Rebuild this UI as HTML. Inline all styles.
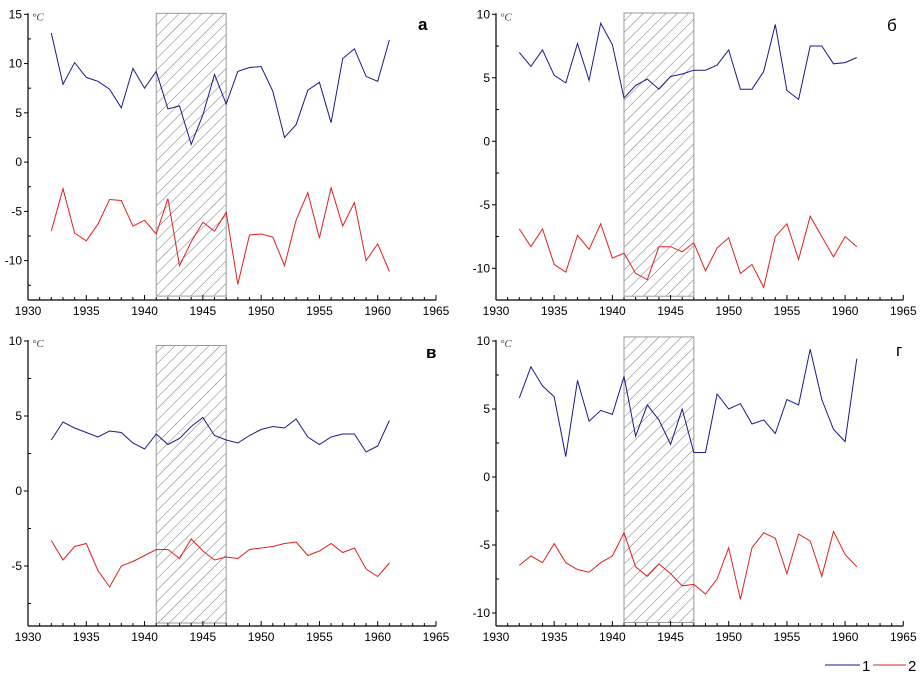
<!DOCTYPE html>
<html><head><meta charset="utf-8">
<style>
body{margin:0;background:#fff;}
svg{display:block;font-family:"Liberation Sans","DejaVu Sans",sans-serif;}
</style></head>
<body>
<svg id="chart" width="920" height="676" viewBox="0 0 920 676" xmlns="http://www.w3.org/2000/svg">
<defs>
<pattern id="hatch" patternUnits="userSpaceOnUse" width="8" height="8" patternTransform="rotate(45)">
<line x1="0" y1="0" x2="0" y2="8" stroke="#777" stroke-width="1"/>
</pattern>
</defs>
</svg>
<script>
const years = [1932,1933,1934,1935,1936,1937,1938,1939,1940,1941,1942,1943,1944,1945,1946,1947,1948,1949,1950,1951,1952,1953,1954,1955,1956,1957,1958,1959,1960,1961];
const xTicks = [1930,1935,1940,1945,1950,1955,1960,1965];
const hatchRange = [1941,1947];

const aSeries1 = [13.1,7.9,10.1,8.6,8.2,7.4,5.5,9.5,7.5,9.2,5.4,5.7,1.8,4.8,8.9,5.9,9.2,9.6,9.7,7.2,2.5,3.8,7.3,8.1,4.0,10.5,11.5,8.7,8.2,12.4];
const aSeries2 = [-7.0,-2.7,-7.2,-8.0,-6.3,-3.8,-3.9,-6.5,-5.9,-7.3,-3.7,-10.5,-8.1,-6.1,-7.0,-5.1,-12.4,-7.4,-7.3,-7.6,-10.5,-5.9,-3.1,-7.7,-2.6,-6.5,-4.1,-10.0,-8.3,-11.1];
const aYTicks = [15,10,5,0,-5,-10];

const bSeries1 = [7.0,5.9,7.2,5.2,4.6,7.7,4.8,9.3,7.6,3.4,4.4,4.9,4.1,5.1,5.3,5.6,5.6,6.0,7.2,4.1,4.1,5.5,9.2,4.0,3.3,7.5,7.5,6.1,6.2,6.6];
const bSeries2 = [-6.9,-8.3,-6.9,-9.7,-10.3,-7.4,-8.5,-6.5,-9.2,-8.8,-10.4,-10.9,-8.3,-8.3,-8.7,-8.0,-10.2,-8.4,-7.6,-10.4,-9.7,-11.5,-7.5,-6.5,-9.3,-5.9,-7.5,-9.1,-7.5,-8.3];
const bYTicks = [10,5,0,-5,-10];

const cSeries1 = [3.4,4.6,4.2,3.9,3.6,4.0,3.9,3.2,2.8,3.8,3.1,3.5,4.3,4.9,3.7,3.4,3.2,3.7,4.1,4.3,4.2,4.8,3.6,3.1,3.6,3.8,3.8,2.6,3.0,4.7];
const cSeries2 = [-3.3,-4.6,-3.7,-3.5,-5.3,-6.4,-5.0,-4.7,-4.3,-3.9,-3.9,-4.5,-3.2,-4.0,-4.6,-4.4,-4.5,-3.9,-3.8,-3.7,-3.5,-3.4,-4.3,-4.0,-3.5,-4.1,-3.8,-5.2,-5.7,-4.8];
const cYTicks = [10,5,0,-5];

const dSeries1 = [5.8,8.1,6.7,5.9,1.5,7.1,4.1,4.9,4.6,7.4,3.0,5.3,4.2,2.4,5.0,1.8,1.8,6.1,5.0,5.4,3.9,4.2,3.2,5.7,5.3,9.4,5.7,3.5,2.6,8.7];
const dSeries2 = [-6.5,-5.8,-6.3,-4.9,-6.3,-6.8,-7.0,-6.3,-5.8,-4.1,-6.6,-7.3,-6.4,-7.1,-8.0,-7.9,-8.6,-7.5,-5.2,-9.0,-5.2,-4.1,-4.5,-7.1,-4.2,-4.7,-7.3,-4.0,-5.7,-6.6];
const dYTicks = [10,5,0,-5,-10];

const svg = document.getElementById('chart');
const NS = 'http://www.w3.org/2000/svg';
function mk(tag, attrs, parent){
  const e = document.createElementNS(NS, tag);
  for (const k in attrs) e.setAttribute(k, attrs[k]);
  (parent||svg).appendChild(e);
  return e;
}

function panel(cfg){
  const g = mk('g', {});
  
  
  const x = v => cfg.x0 + (v - 1930) * (cfg.x1 - cfg.x0) / 35;
  const y = v => cfg.yTop + (cfg.vTop - v) * cfg.ppu;
  const hb = mk('rect', {x:x(hatchRange[0]), y:y(cfg.boxTop), width:x(hatchRange[1])-x(hatchRange[0]), height:y(cfg.boxBot)-y(cfg.boxTop), fill:'url(#hatch)', stroke:'#999', 'stroke-width':1}, g);
  
  
  const ax = mk('line', {x1:cfg.x0, y1:cfg.axisY, x2:cfg.x1, y2:cfg.axisY, stroke:'#000', 'stroke-width':1.2}, g);
  
  
  const ay = mk('line', {x1:cfg.x0, y1:y(cfg.vTop)-1, x2:cfg.x0, y2:cfg.axisY, stroke:'#000', 'stroke-width':1.2}, g);
  
  
  for (let yr = 1930; yr <= 1965; yr++){
    const major = yr % 5 === 0;
    mk('line', {x1:x(yr), y1:cfg.axisY, x2:x(yr), y2:cfg.axisY-(major?5:3), stroke:'#000', 'stroke-width':1}, g);
  }
  xTicks.forEach(t => {
    const tl = mk('text', {x:x(t), y:cfg.axisY+15, 'font-size':12, 'text-anchor':'middle', fill:'#000'}, g);
    tl.textContent = t;
    
    
  });
  cfg.yTicks.forEach(t => {
    mk('line', {x1:cfg.x0-4, y1:y(t), x2:cfg.x0, y2:y(t), stroke:'#000', 'stroke-width':1}, g);
    if (y(t-2.5) < cfg.axisY - 2) {
      mk('line', {x1:cfg.x0, y1:y(t-2.5), x2:cfg.x0+3, y2:y(t-2.5), stroke:'#000', 'stroke-width':1}, g);
    }
    const tl = mk('text', {x:cfg.x0-6, y:y(t)+4, 'font-size':12, 'text-anchor':'end', fill:'#000'}, g);
    tl.textContent = t;
    
    
  });
  const unit = mk('text', {x:cfg.x0+4, y:y(cfg.vTop)+6, 'font-size':11, 'font-style':'italic', 'font-family':'Liberation Serif, serif', fill:'#444'}, g);
  unit.textContent = '°C';
  
  
  const lab = mk('text', {x:cfg.labX, y:cfg.labY, 'font-size':17, 'font-weight':cfg.bold?'bold':'normal', fill:'#000'}, g);
  lab.textContent = cfg.label;
  
  
  [[cfg.s1,'#1a1a8c','series-1-line'],[cfg.s2,'#e0201f','series-2-line']].forEach(([s,c,n]) => {
    const pts = s.map((v,i) => x(years[i]).toFixed(1)+','+y(v).toFixed(1)).join(' ');
    const pl = mk('polyline', {points:pts, fill:'none', stroke:c, 'stroke-width':1}, g);
    
    
  });
}

panel({id:'a', x0:28, x1:436, axisY:300, yTop:14.3, vTop:15, ppu:9.853, yTicks:aYTicks, s1:aSeries1, s2:aSeries2, boxTop:15.1, boxBot:-13.6, label:'а', labX:418, labY:30, bold:true});
panel({id:'b', x0:496, x1:903.3, axisY:300, yTop:14.3, vTop:10, ppu:12.7, yTicks:bYTicks, s1:bSeries1, s2:bSeries2, boxTop:10.1, boxBot:-12.2, label:'б', labX:887, labY:31, bold:false});
panel({id:'c', x0:28, x1:436, axisY:626, yTop:341, vTop:10, ppu:15, yTicks:cYTicks, s1:cSeries1, s2:cSeries2, boxTop:9.7, boxBot:-8.8, label:'в', labX:426, labY:358, bold:true});
panel({id:'d', x0:496, x1:903.3, axisY:626, yTop:341, vTop:10, ppu:13.6, yTicks:dYTicks, s1:dSeries1, s2:dSeries2, boxTop:10.3, boxBot:-10.7, label:'г', labX:896, labY:356, bold:false});

const lg = mk('g', {});


mk('line', {x1:825, y1:665, x2:860, y2:665, stroke:'#1a1a8c', 'stroke-width':1}, lg);
const l1 = mk('text', {x:862, y:671, 'font-size':15, fill:'#000'}, lg);
l1.textContent = '1';


mk('line', {x1:873, y1:665, x2:906, y2:665, stroke:'#e0201f', 'stroke-width':1}, lg);
const l2 = mk('text', {x:908, y:671, 'font-size':15, fill:'#000'}, lg);
l2.textContent = '2';


</script>
</body></html>
